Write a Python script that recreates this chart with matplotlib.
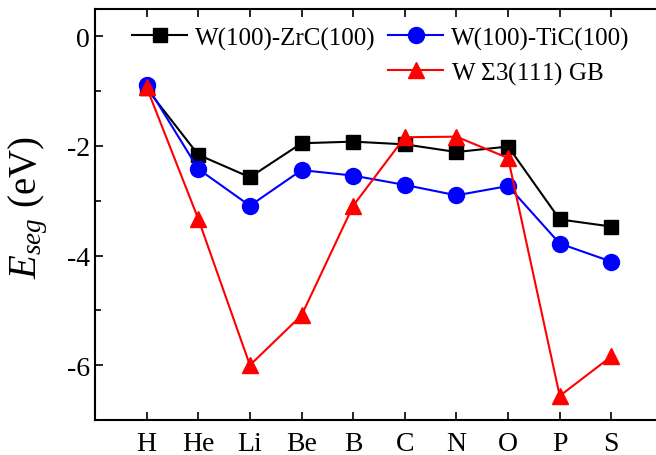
import matplotlib
matplotlib.use("Agg")
import matplotlib.pyplot as plt
from matplotlib.lines import Line2D
from matplotlib.ticker import MultipleLocator

plt.rcParams['font.family'] = ['Liberation Serif', 'DejaVu Serif']
plt.rcParams['mathtext.fontset'] = 'custom'
plt.rcParams['mathtext.rm'] = 'Liberation Serif'
plt.rcParams['mathtext.it'] = 'Liberation Serif:italic'
plt.rcParams['axes.unicode_minus'] = False

elements = ['H', 'He', 'Li', 'Be', 'B', 'C', 'N', 'O', 'P', 'S']
zrc = [-0.95, -2.16, -2.57, -1.95, -1.92, -1.97, -2.11, -2.01, -3.34, -3.47]
tic = [-0.89, -2.42, -3.09, -2.44, -2.54, -2.71, -2.90, -2.73, -3.78, -4.11]
gb = [-0.93, -3.33, -6.00, -5.09, -3.09, -1.84, -1.83, -2.22, -6.56, -5.84]

fig = plt.figure(figsize=(6.56, 4.56), dpi=100)
ax = fig.add_axes([95 / 656, 35 / 456, 568 / 656, 411 / 456])

x = list(range(len(elements)))
l1, = ax.plot(x, zrc, '-s', color='black', ms=10, lw=1.5, label='W(100)-ZrC(100)')
l2, = ax.plot(x, tic, '-o', color='#0000ff', ms=11.5, lw=1.5, label='W(100)-TiC(100)')
l3, = ax.plot(x, gb, '-^', color='#ff0000', ms=11, lw=1.5, label='W $\\Sigma$3(111) GB')

ax.set_xlim(-1, 10)
ax.set_ylim(-7, 0.5)
ax.set_xticks(x)
ax.set_xticklabels(elements)
ax.yaxis.set_major_locator(MultipleLocator(2))
ax.yaxis.set_minor_locator(MultipleLocator(1))
ax.tick_params(axis='both', which='major', direction='in', length=6, width=1.2,
               labelsize=20, top=True, right=False)
ax.tick_params(axis='y', which='minor', direction='in', length=4, width=1.2)
ax.tick_params(axis='x', pad=8)
for s in ax.spines.values():
    s.set_linewidth(1.5)
ax.spines['right'].set_visible(False)

ax.set_ylabel('$E_{seg}$ (eV)', fontsize=28)
ax.yaxis.set_label_coords(-0.08, 0.52)

blank = Line2D([], [], linestyle='none')
ax.legend([l1, blank, l2, l3],
          [l1.get_label(), '', l2.get_label(), l3.get_label()],
          ncol=2, loc='upper left', bbox_to_anchor=(0.035, 1.0),
          frameon=False, fontsize=18, handlelength=2.2, handletextpad=0.3,
          columnspacing=0.5, labelspacing=0.4, borderaxespad=0.3)

fig.savefig('out.png', dpi=100)
